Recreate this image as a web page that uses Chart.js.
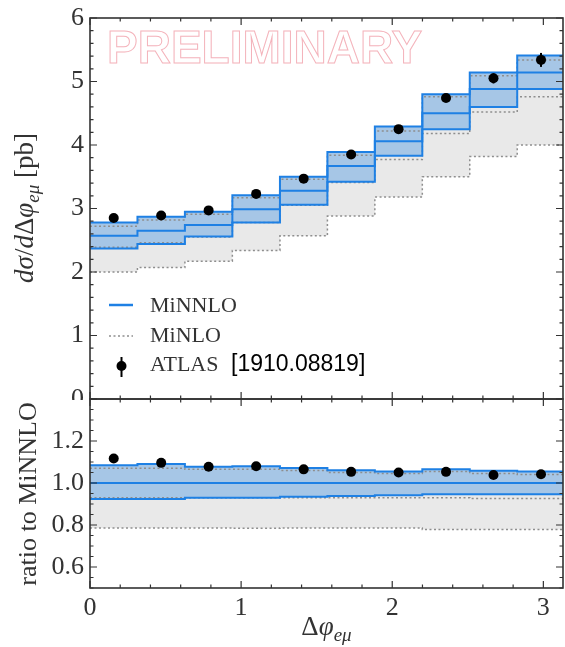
<!DOCTYPE html>
<html>
<head>
<meta charset="utf-8">
<script src="https://cdn.jsdelivr.net/npm/chart.js@4.4.0/dist/chart.umd.min.js"></script>
<style>
  html, body { margin: 0; padding: 0; background: #fff; }
  #wrap { position: relative; width: 565px; height: 647px; overflow: hidden; background: #fff; }
  canvas { position: absolute; left: 0; }
  #main  { top: 0; }
  #ratio { top: 398px; }
</style>
</head>
<body>
<div id="wrap">
  <canvas id="main" width="565" height="400"></canvas>
  <canvas id="ratio" width="565" height="249"></canvas>
</div>
<script>
/* === Binning: 10 bins of pi/10 in delta phi(e,mu) === */
const EDGES = [0, 0.314, 0.628, 0.942, 1.257, 1.571, 1.885, 2.199, 2.513, 2.827, 3.142];
const X_TICKS = [0, 1, 2, 3];
const MAIN_Y_TICKS = [0, 1, 2, 3, 4, 5, 6];
const RATIO_Y_TICKS = [0.6, 0.8, 1.0, 1.2];

/* === d sigma / d delta phi [pb] === */
const MINNLO    = [2.57, 2.65, 2.74, 2.99, 3.28, 3.67, 4.06, 4.50, 4.88, 5.14];
const MINNLO_UP = [2.78, 2.87, 2.95, 3.21, 3.50, 3.89, 4.29, 4.80, 5.14, 5.41];
const MINNLO_DN = [2.37, 2.44, 2.56, 2.78, 3.06, 3.42, 3.83, 4.25, 4.60, 4.88];
const MINLO     = [2.39, 2.46, 2.55, 2.78, 3.05, 3.41, 3.77, 4.18, 4.52, 4.76];
const MINLO_UP  = [2.72, 2.82, 2.91, 3.17, 3.46, 3.84, 4.22, 4.76, 5.09, 5.34];
const MINLO_DN  = [2.00, 2.07, 2.17, 2.34, 2.57, 2.88, 3.18, 3.50, 3.82, 4.00];
const ATLAS     = [2.85, 2.89, 2.97, 3.23, 3.47, 3.85, 4.25, 4.74, 5.05, 5.34];
const ATLAS_ERR = [0.04, 0.04, 0.04, 0.04, 0.05, 0.05, 0.05, 0.06, 0.08, 0.11];

/* === ratio to MiNNLO === */
const R_MINNLO    = [1.0, 1.0, 1.0, 1.0, 1.0, 1.0, 1.0, 1.0, 1.0, 1.0];
const R_MINNLO_UP = [1.085, 1.09, 1.077, 1.08, 1.072, 1.061, 1.055, 1.065, 1.058, 1.055];
const R_MINNLO_DN = [0.924, 0.924, 0.93, 0.93, 0.935, 0.938, 0.942, 0.947, 0.947, 0.947];
const R_MINLO     = [0.93, 0.93, 0.93, 0.93, 0.93, 0.93, 0.93, 0.93, 0.926, 0.926];
const R_MINLO_UP  = [1.07, 1.07, 1.065, 1.065, 1.06, 1.05, 1.045, 1.055, 1.045, 1.04];
const R_MINLO_DN  = [0.786, 0.786, 0.786, 0.784, 0.786, 0.786, 0.786, 0.778, 0.778, 0.778];
const R_ATLAS     = [1.117, 1.096, 1.077, 1.08, 1.065, 1.053, 1.05, 1.053, 1.038, 1.042];
const R_ATLAS_ERR = [0.015, 0.015, 0.015, 0.015, 0.015, 0.015, 0.015, 0.015, 0.017, 0.02];

/* === Style === */
const BLUE  = '#1e80e4';
const BAND  = '#a6c6e6';
const GREY  = '#e9e9e9';
const DOT   = '#8e8e8e';
const INK   = '#333';
const SERIF = '"Liberation Serif", "DejaVu Serif", serif';
const SANS  = '"Liberation Sans", Arial, sans-serif';

/* === Helpers === */
const centers = EDGES.slice(0, -1).map((e, i) => (e + EDGES[i + 1]) / 2);
const steps = vals => EDGES.map((x, i) => ({ x, y: vals[Math.min(i, vals.length - 1)] }));
const pts = vals => vals.map((y, i) => ({ x: centers[i], y }));

function hist(label, vals, extra) {
  return Object.assign({
    label, data: steps(vals), stepped: 'before',
    pointRadius: 0, fill: false, borderWidth: 2
  }, extra);
}

function buildSets(s) {
  const dotted = { borderColor: DOT, borderWidth: 1.5, borderDash: [2, 2.5], order: 2 };
  return [
    { label: 'ATLAS', data: pts(s.data), err: s.err, showLine: false,
      pointRadius: 5, pointBackgroundColor: '#000', pointBorderWidth: 0, order: 0 },
    hist('MiNNLO', s.nnlo, { borderColor: BLUE, order: 1 }),
    hist('MiNNLO up', s.nnloUp, { borderColor: BLUE, order: 1 }),
    hist('MiNNLO down', s.nnloDn, { borderColor: BLUE, order: 1 }),
    hist('MiNLO up', s.nloUp, dotted),
    hist('MiNLO', s.nlo, dotted),
    hist('MiNLO down', s.nloDn, dotted),
    hist('MiNNLO band', s.nnloUp, { borderColor: 'rgba(0,0,0,0)', borderWidth: 0, fill: 3, backgroundColor: BAND, order: 3 }),
    hist('MiNLO band', s.nloUp, { borderColor: 'rgba(0,0,0,0)', borderWidth: 0, fill: 6, backgroundColor: GREY, order: 4 })
  ];
}

// draw a row of text pieces (font changes, subscripts) starting at x
function textRun(ctx, parts, x, y) {
  parts.forEach(p => {
    ctx.font = p.font;
    ctx.fillText(p.t, x, y + (p.dy || 0));
    x += ctx.measureText(p.t).width;
  });
  return x;
}
function runWidth(ctx, parts) {
  return parts.reduce((w, p) => { ctx.font = p.font; return w + ctx.measureText(p.t).width; }, 0);
}
function rotatedRun(ctx, parts, cx, cy) {
  ctx.save();
  ctx.translate(cx, cy);
  ctx.rotate(-Math.PI / 2);
  textRun(ctx, parts, -runWidth(ctx, parts) / 2, 0);
  ctx.restore();
}

/* === Plugins === */
const errorBars = {
  id: 'errorBars',
  afterDatasetsDraw(chart) {
    const ds = chart.data.datasets[0], meta = chart.getDatasetMeta(0), y = chart.scales.y;
    const ctx = chart.ctx;
    ctx.save();
    ctx.strokeStyle = '#000';
    ctx.lineWidth = 2;
    meta.data.forEach((p, i) => {
      const v = ds.data[i].y, e = ds.err[i];
      ctx.beginPath();
      ctx.moveTo(p.x, y.getPixelForValue(v - e));
      ctx.lineTo(p.x, y.getPixelForValue(v + e));
      ctx.stroke();
    });
    ctx.restore();
  }
};

// box around the axes with inward major/minor ticks on all four sides
const frame = {
  id: 'frame',
  afterDraw(chart, args, o) {
    const { ctx, chartArea: a, scales: { x, y } } = chart;
    ctx.save();
    ctx.strokeStyle = INK;
    ctx.lineWidth = 1.2;
    const run = (scale, step, every, fn) => {
      const k0 = Math.ceil(scale.min / step - 1e-6), k1 = Math.floor(scale.max / step + 1e-6);
      for (let k = k0; k <= k1; k++) fn(scale.getPixelForValue(k * step), k % every === 0 ? 7 : 3.5);
    };
    ctx.beginPath();
    run(x, o.xStep, o.xEvery, (px, len) => {
      ctx.moveTo(px, a.bottom); ctx.lineTo(px, a.bottom - len);
      ctx.moveTo(px, a.top);    ctx.lineTo(px, a.top + len);
    });
    run(y, o.yStep, o.yEvery, (py, len) => {
      ctx.moveTo(a.left, py);  ctx.lineTo(a.left + len, py);
      ctx.moveTo(a.right, py); ctx.lineTo(a.right - len, py);
    });
    ctx.stroke();
    ctx.lineWidth = 1.6;
    ctx.strokeRect(a.left, a.top, a.right - a.left, a.bottom - a.top);
    ctx.restore();
  }
};

const mainDecor = {
  id: 'mainDecor',
  beforeDatasetsDraw(chart) {
    const ctx = chart.ctx;
    ctx.save();
    ctx.font = 'bold 46px ' + SANS;
    ctx.strokeStyle = '#f4b3bb';
    ctx.lineWidth = 1;
    ctx.strokeText('PRELIMINARY', 107, 63);
    ctx.restore();
  },
  afterDraw(chart) {
    const ctx = chart.ctx;
    ctx.save();
    ctx.fillStyle = INK;
    ctx.textBaseline = 'alphabetic';
    const it = 'italic 27px ' + SERIF, rm = '27px ' + SERIF, sub = 'italic 19px ' + SERIF;
    rotatedRun(ctx, [
      { t: 'dσ', font: it }, { t: '/', font: rm }, { t: 'd', font: it }, { t: 'Δ', font: rm },
      { t: 'φ', font: it }, { t: 'eμ', font: sub, dy: 6 }, { t: ' [pb]', font: rm }
    ], 33, 208);

    // legend
    ctx.lineWidth = 2.5;
    ctx.strokeStyle = BLUE;
    ctx.beginPath(); ctx.moveTo(109, 305); ctx.lineTo(133, 305); ctx.stroke();
    ctx.lineWidth = 1.5;
    ctx.strokeStyle = DOT;
    ctx.setLineDash([2, 2.5]);
    ctx.beginPath(); ctx.moveTo(109, 336); ctx.lineTo(133, 336); ctx.stroke();
    ctx.setLineDash([]);
    ctx.lineWidth = 2;
    ctx.strokeStyle = '#000';
    ctx.beginPath(); ctx.moveTo(121.5, 357); ctx.lineTo(121.5, 377); ctx.stroke();
    ctx.fillStyle = '#000';
    ctx.beginPath(); ctx.arc(121.5, 366, 5, 0, Math.PI * 2); ctx.fill();

    ctx.fillStyle = INK;
    ctx.font = '22px ' + SERIF;
    ctx.fillText('MiNNLO', 150, 312);
    ctx.fillText('MiNLO', 150, 342);
    ctx.fillText('ATLAS', 150, 371);
    ctx.fillStyle = '#000';
    ctx.font = '23px ' + SANS;
    ctx.fillText('[1910.08819]', 231, 371);
    ctx.restore();
  }
};

const ratioDecor = {
  id: 'ratioDecor',
  afterDraw(chart) {
    const ctx = chart.ctx;
    ctx.save();
    ctx.fillStyle = INK;
    rotatedRun(ctx, [{ t: 'ratio to MiNNLO', font: '26px ' + SERIF }], 36, 96);
    const parts = [
      { t: 'Δ', font: '27px ' + SERIF }, { t: 'φ', font: 'italic 27px ' + SERIF },
      { t: 'eμ', font: 'italic 19px ' + SERIF, dy: 6 }
    ];
    const a = chart.chartArea;
    textRun(ctx, parts, (a.left + a.right) / 2 - runWidth(ctx, parts) / 2, 237);
    ctx.restore();
  }
};

/* === Axes === */
const tickFont = { family: SERIF, size: 26 };
// fixed gutter sizes; no extra room for overhanging end labels
const noPad = s => { s.paddingTop = 0; s.paddingBottom = 0; s.paddingLeft = 0; s.paddingRight = 0; };
function yAxis(min, max, ticks, fmt) {
  return {
    min, max,
    afterFit: s => { s.width = 90; noPad(s); },
    afterBuildTicks: s => { s.ticks = ticks.map(value => ({ value })); },
    grid: { display: false, drawTicks: false },
    border: { display: false },
    ticks: { padding: 6, color: INK, font: tickFont, callback: fmt }
  };
}

const common = {
  responsive: false,
  animation: false,
  devicePixelRatio: 1,
  events: [],
  plugins: { legend: { display: false }, tooltip: { enabled: false } }
};

/* === Main panel === */
new Chart(document.getElementById('main'), {
  type: 'line',
  data: { datasets: buildSets({
    nnlo: MINNLO, nnloUp: MINNLO_UP, nnloDn: MINNLO_DN,
    nlo: MINLO, nloUp: MINLO_UP, nloDn: MINLO_DN,
    data: ATLAS, err: ATLAS_ERR
  }) },
  options: Object.assign({}, common, {
    layout: { autoPadding: false, padding: { top: 18, right: 2, bottom: 1, left: 0 } },
    plugins: Object.assign({}, common.plugins, {
      frame: { xStep: 0.2, xEvery: 5, yStep: 0.2, yEvery: 5 }
    }),
    scales: {
      x: { type: 'linear', min: 0, max: 3.13, display: false },
      y: yAxis(0, 6, MAIN_Y_TICKS, v => String(v))
    }
  }),
  plugins: [errorBars, frame, mainDecor]
});

/* === Ratio panel === */
new Chart(document.getElementById('ratio'), {
  type: 'line',
  data: { datasets: buildSets({
    nnlo: R_MINNLO, nnloUp: R_MINNLO_UP, nnloDn: R_MINNLO_DN,
    nlo: R_MINLO, nloUp: R_MINLO_UP, nloDn: R_MINLO_DN,
    data: R_ATLAS, err: R_ATLAS_ERR
  }) },
  options: Object.assign({}, common, {
    layout: { autoPadding: false, padding: { top: 1, right: 2, bottom: 0, left: 0 } },
    plugins: Object.assign({}, common.plugins, {
      frame: { xStep: 0.2, xEvery: 5, yStep: 0.05, yEvery: 4 }
    }),
    scales: {
      x: {
        type: 'linear', min: 0, max: 3.13,
        afterFit: s => { s.height = 59; noPad(s); },
        afterBuildTicks: s => { s.ticks = X_TICKS.map(value => ({ value })); },
        grid: { display: false, drawTicks: false },
        border: { display: false },
        ticks: { padding: 5, color: INK, font: tickFont, maxRotation: 0, autoSkip: false }
      },
      y: yAxis(0.5, 1.4, RATIO_Y_TICKS, v => v.toFixed(1))
    }
  }),
  plugins: [errorBars, frame, ratioDecor]
});
</script>
</body>
</html>
